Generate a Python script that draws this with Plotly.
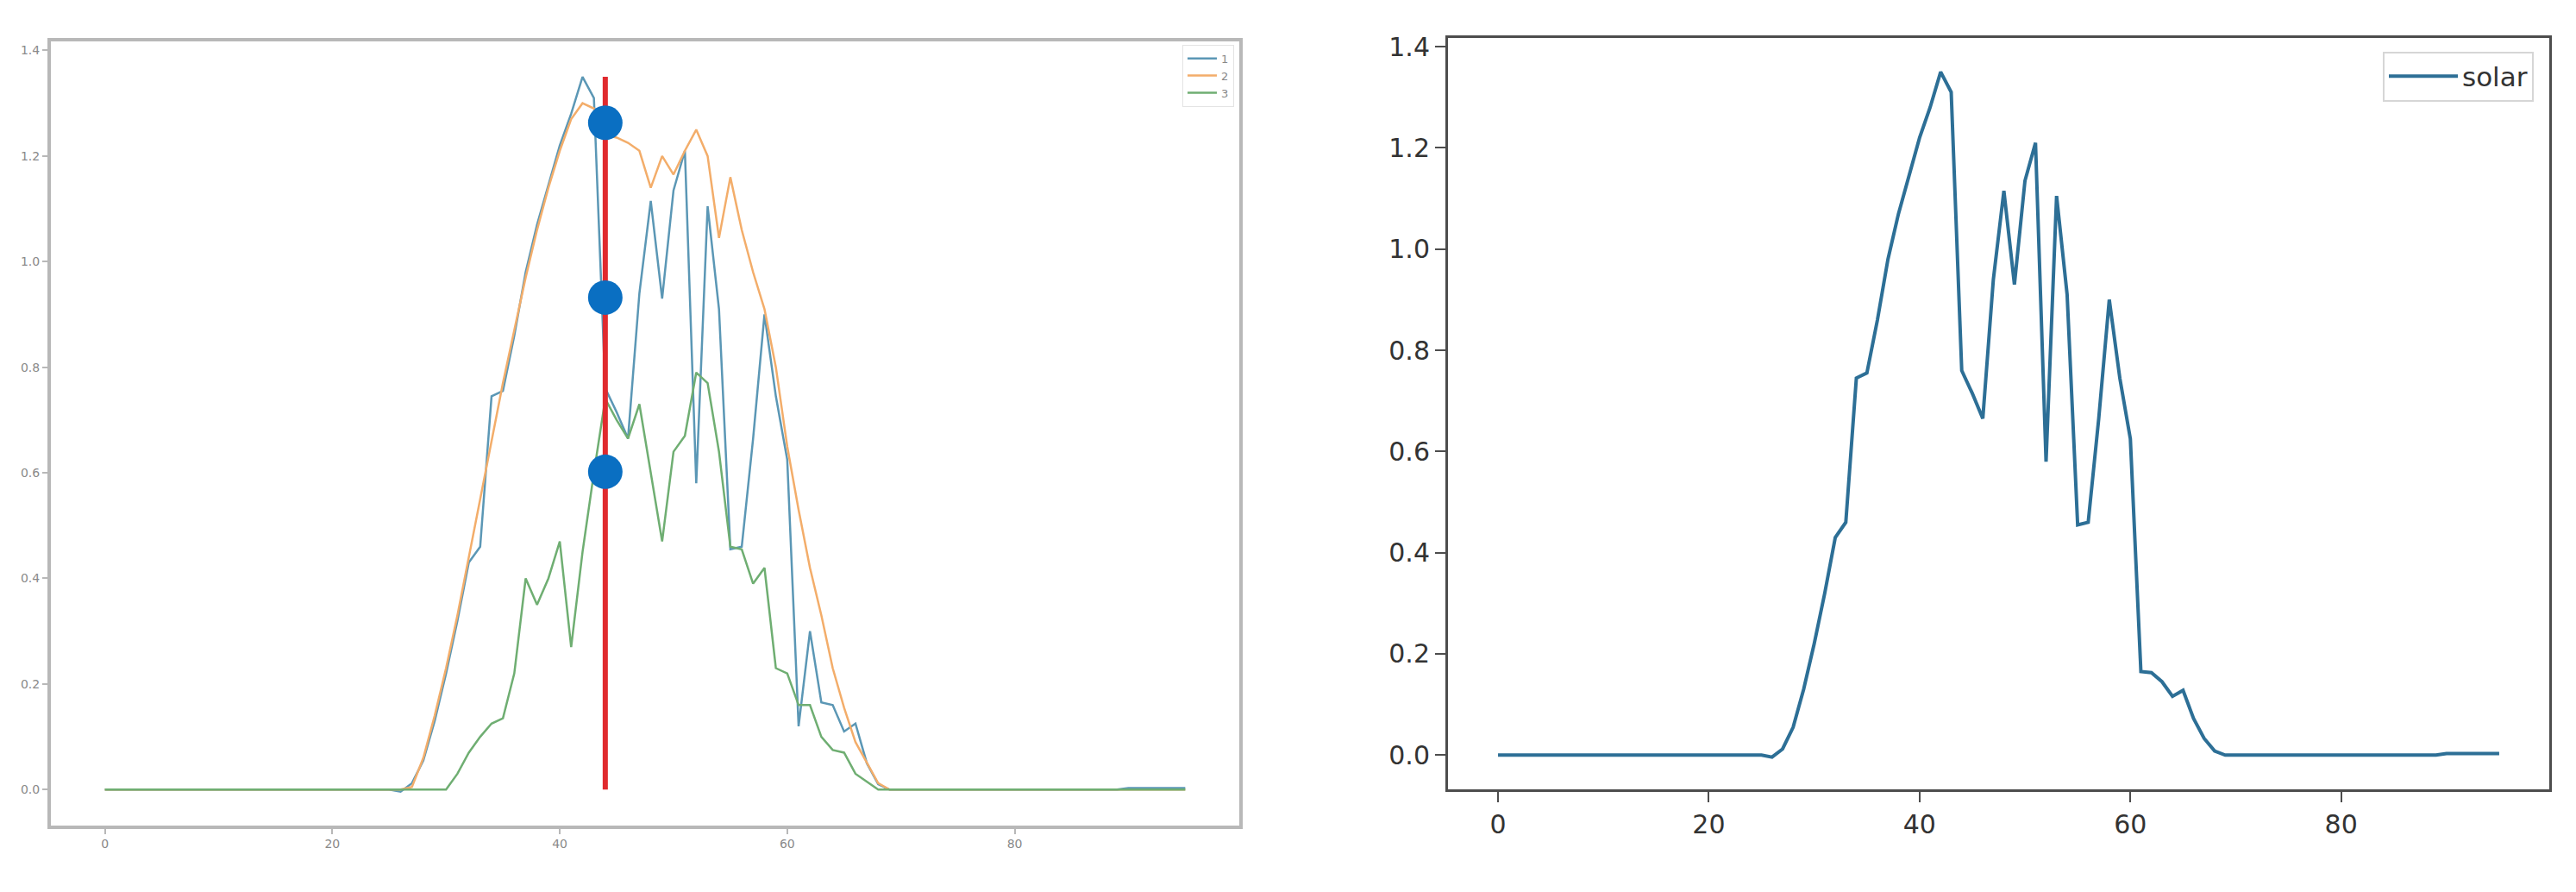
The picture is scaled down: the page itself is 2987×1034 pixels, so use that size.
import plotly.graph_objects as go

# 15-minute steps of one day
steps = list(range(96))

# left panel series (legend "1", "2", "3")
series_1 = [
    0, 0, 0, 0, 0, 0, 0, 0, 0, 0, 0, 0,
    0, 0, 0, 0, 0, 0, 0, 0, 0, 0, 0, 0,
    0, 0, -0.004, 0.012, 0.055, 0.13, 0.22, 0.32, 0.43, 0.46, 0.745, 0.755,
    0.86, 0.98, 1.07, 1.145, 1.22, 1.28, 1.35, 1.31, 0.76, 0.715, 0.665, 0.94,
    1.115, 0.93, 1.135, 1.21, 0.58, 1.105, 0.91, 0.455, 0.46, 0.665, 0.90, 0.745,
    0.625, 0.12, 0.30, 0.165, 0.16, 0.11, 0.125, 0.05, 0.01, 0, 0, 0,
    0, 0, 0, 0, 0, 0, 0, 0, 0, 0, 0, 0,
    0, 0, 0, 0, 0, 0, 0.003, 0.003, 0.003, 0.003, 0.003, 0.003,
]
series_2 = [
    0, 0, 0, 0, 0, 0, 0, 0, 0, 0, 0, 0,
    0, 0, 0, 0, 0, 0, 0, 0, 0, 0, 0, 0,
    0, 0, 0, 0.005, 0.06, 0.14, 0.23, 0.33, 0.44, 0.55, 0.66, 0.77,
    0.87, 0.97, 1.06, 1.14, 1.21, 1.27, 1.30, 1.29, 1.24, 1.235, 1.225, 1.21,
    1.14, 1.20, 1.165, 1.21, 1.25, 1.20, 1.045, 1.16, 1.06, 0.98, 0.91, 0.80,
    0.65, 0.53, 0.42, 0.33, 0.23, 0.155, 0.09, 0.05, 0.012, 0, 0, 0,
    0, 0, 0, 0, 0, 0, 0, 0, 0, 0, 0, 0,
    0, 0, 0, 0, 0, 0, 0, 0, 0, 0, 0, 0,
]
series_3 = [
    0, 0, 0, 0, 0, 0, 0, 0, 0, 0, 0, 0,
    0, 0, 0, 0, 0, 0, 0, 0, 0, 0, 0, 0,
    0, 0, 0, 0, 0, 0, 0, 0.03, 0.07, 0.10, 0.125, 0.135,
    0.22, 0.40, 0.35, 0.40, 0.47, 0.27, 0.45, 0.60, 0.74, 0.70, 0.665, 0.73,
    0.60, 0.47, 0.64, 0.67, 0.79, 0.77, 0.64, 0.46, 0.455, 0.39, 0.42, 0.23,
    0.22, 0.16, 0.16, 0.10, 0.075, 0.07, 0.03, 0.015, 0, 0, 0, 0,
    0, 0, 0, 0, 0, 0, 0, 0, 0, 0, 0, 0,
    0, 0, 0, 0, 0, 0, 0, 0, 0, 0, 0, 0,
]

# marked time step and the points shown on it
marker_step = 44
marker_line = [0, 1.35]
marker_values = [1.263, 0.932, 0.602]

# right panel
solar = [
    0, 0, 0, 0, 0, 0, 0, 0, 0, 0, 0, 0,
    0, 0, 0, 0, 0, 0, 0, 0, 0, 0, 0, 0,
    0, 0, -0.004, 0.012, 0.055, 0.13, 0.22, 0.32, 0.43, 0.46, 0.745, 0.755,
    0.86, 0.98, 1.07, 1.145, 1.22, 1.28, 1.35, 1.31, 0.76, 0.715, 0.665, 0.94,
    1.115, 0.93, 1.135, 1.21, 0.58, 1.105, 0.91, 0.455, 0.46, 0.665, 0.90, 0.745,
    0.625, 0.165, 0.163, 0.145, 0.116, 0.128, 0.072, 0.033, 0.008, 0, 0, 0,
    0, 0, 0, 0, 0, 0, 0, 0, 0, 0, 0, 0,
    0, 0, 0, 0, 0, 0, 0.003, 0.003, 0.003, 0.003, 0.003, 0.003,
]

x_ticks = [0, 20, 40, 60, 80]
y_ticks = [0.0, 0.2, 0.4, 0.6, 0.8, 1.0, 1.2, 1.4]

fig = go.Figure()

# left panel
for name, vals, col in [('1', series_1, '#5b97b5'),
                        ('2', series_2, '#f3ad6a'),
                        ('3', series_3, '#6fae72')]:
    fig.add_trace(go.Scatter(x=steps, y=vals, mode='lines', name=name,
                             line=dict(color=col, width=2.5),
                             xaxis='x', yaxis='y', legend='legend'))

fig.add_trace(go.Scatter(x=[marker_step, marker_step], y=marker_line, mode='lines',
                         line=dict(color='#e02a2e', width=6), showlegend=False,
                         xaxis='x', yaxis='y'))
fig.add_trace(go.Scatter(x=[marker_step] * len(marker_values), y=marker_values,
                         mode='markers', marker=dict(color='#0a6fc2', size=40),
                         showlegend=False, xaxis='x', yaxis='y'))

# right panel
fig.add_trace(go.Scatter(x=steps, y=solar, mode='lines', name='solar',
                         line=dict(color='#2d6f96', width=4),
                         xaxis='x2', yaxis='y2', legend='legend2'))


def axis(domain, anchor, ticks, rng, line_col, line_w, font_size, font_col, ticklen, fmt=None):
    d = dict(domain=domain, anchor=anchor, range=rng, tickvals=ticks,
             showgrid=False, zeroline=False, showline=True, mirror=True,
             linecolor=line_col, linewidth=line_w, ticks='outside',
             tickcolor=line_col, ticklen=ticklen, tickwidth=2,
             tickfont=dict(family='DejaVu Sans', size=font_size, color=font_col))
    if fmt:
        d['tickformat'] = fmt
    return d


W, H = 2987, 1034
fig.update_layout(
    width=W, height=H,
    margin=dict(l=0, r=0, t=0, b=0),
    paper_bgcolor='white', plot_bgcolor='white',
    xaxis=axis([51 / W, 1429 / W], 'y', x_ticks, [-4.75, 99.75],
               '#b8b8b8', 4, 14, '#8a8a8a', 6),
    yaxis=axis([1 - 948 / H, 1 - 33 / H], 'x', y_ticks, [-0.0675, 1.4175],
               '#b8b8b8', 4, 14, '#8a8a8a', 6, '.1f'),
    xaxis2=axis([1671 / W, 2948 / W], 'y2', x_ticks, [-4.75, 99.75],
                '#4d4d4d', 3, 30, '#333333', 12),
    yaxis2=axis([1 - 906 / H, 1 - 29 / H], 'x2', y_ticks, [-0.0675, 1.4175],
                '#4d4d4d', 3, 30, '#333333', 12, '.1f'),
    legend=dict(x=1423 / W, y=1 - 37 / H, xanchor='right', yanchor='top',
                bgcolor='rgba(255,255,255,0.8)', bordercolor='#e4e4e4', borderwidth=1,
                font=dict(family='DejaVu Sans', size=13, color='#888888'),
                itemwidth=34),
    legend2=dict(x=2930 / W, y=1 - 45 / H, xanchor='right', yanchor='top',
                 bgcolor='rgba(255,255,255,0.8)', bordercolor='#d6d6d6', borderwidth=2,
                 font=dict(family='DejaVu Sans', size=31, color='#333333'),
                 itemwidth=80),
)

fig.write_html("out.html")
